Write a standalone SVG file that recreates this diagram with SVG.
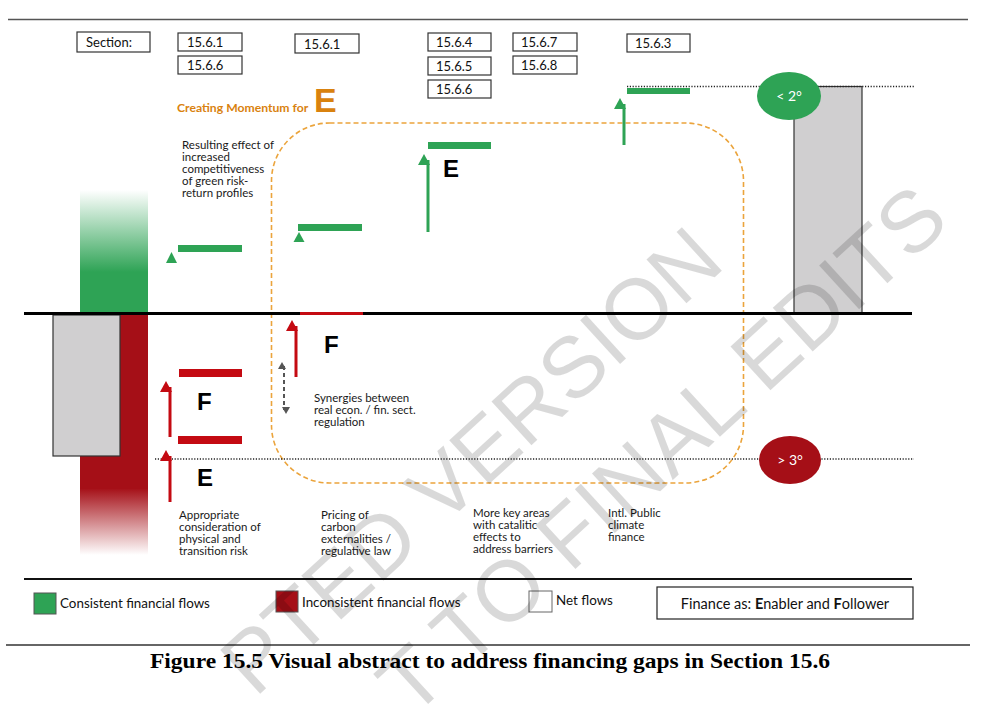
<svg xmlns="http://www.w3.org/2000/svg" width="993" height="705" viewBox="0 0 993 705">
<style>
  .box { fill: #ffffff; stroke: #333333; stroke-width: 1.2; }
  .sec { font-family: Lato, "Liberation Sans", sans-serif; font-size: 13px; fill: #111111; }
  .desc { font-family: Lato, "Liberation Sans", sans-serif; font-size: 11.5px; fill: #1a1a1a; }
  .big { font-family: "Liberation Sans", Arial, sans-serif; font-weight: bold; font-size: 24px; fill: #000000; }
  .leg { font-family: Lato, "Liberation Sans", sans-serif; font-size: 13.4px; fill: #111111; }
  .gbar { fill: #2ea355; }
  .rbar { fill: #c40a12; }
  .gline { stroke: #2ea355; stroke-width: 3; fill: none; }
  .rline { stroke: #c40a12; stroke-width: 3; fill: none; }
  .dots { stroke: #222222; stroke-width: 1.6; stroke-dasharray: 1.2 1.6; fill: none; }
  .wm { font-family: "Liberation Sans", Arial, sans-serif; font-size: 86px; fill: #000000; fill-opacity: 0.15; }
</style>
<defs>
  <linearGradient id="gfade" x1="0" y1="190" x2="0" y2="272" gradientUnits="userSpaceOnUse">
    <stop offset="0" stop-color="#2ea355" stop-opacity="0"/>
    <stop offset="1" stop-color="#2ea355" stop-opacity="1"/>
  </linearGradient>
  <linearGradient id="rfade" x1="0" y1="488" x2="0" y2="555" gradientUnits="userSpaceOnUse">
    <stop offset="0" stop-color="#a50f17" stop-opacity="1"/>
    <stop offset="1" stop-color="#a50f17" stop-opacity="0"/>
  </linearGradient>
  <marker id="gArrow" markerWidth="12" markerHeight="12" refX="6" refY="10" orient="auto-start-reverse" markerUnits="userSpaceOnUse" viewBox="0 0 12 12">
    <path d="M6 0 L12 11 L0 11 Z" fill="#2ea355" transform="rotate(90 6 6)"/>
  </marker>
  <marker id="rArrow" markerWidth="12" markerHeight="12" refX="6" refY="10" orient="auto-start-reverse" markerUnits="userSpaceOnUse" viewBox="0 0 12 12">
    <path d="M6 0 L12 11 L0 11 Z" fill="#c40a12" transform="rotate(90 6 6)"/>
  </marker>
  <marker id="kArrow" markerWidth="8" markerHeight="8" refX="4" refY="6" orient="auto-start-reverse" markerUnits="userSpaceOnUse" viewBox="0 0 8 8">
    <path d="M4 0 L8 7 L0 7 Z" fill="#555555" transform="rotate(90 4 4)"/>
  </marker>
</defs>

<rect x="0" y="0" width="993" height="705" fill="#ffffff"/>

<!-- page rules -->
<g id="rules">
  <line x1="8" y1="19.5" x2="968" y2="19.5" stroke="#555555" stroke-width="1.5"/>
  <line x1="24" y1="579" x2="912" y2="579" stroke="#111111" stroke-width="2"/>
  <line x1="6" y1="645" x2="970" y2="645" stroke="#333333" stroke-width="1.3"/>
</g>

<!-- section boxes -->
<g id="sections">
  <g id="sec-label"><rect class="box" x="77" y="32" width="73" height="20"/><text class="sec" x="86" y="47">Section:</text></g>
  <g id="sec-1a"><rect class="box" x="178" y="33" width="64" height="18"/><text class="sec" x="187" y="47">15.6.1</text></g>
  <g id="sec-1b"><rect class="box" x="178" y="56" width="64" height="18"/><text class="sec" x="187" y="70">15.6.6</text></g>
  <g id="sec-2a"><rect class="box" x="295" y="34" width="64" height="19"/><text class="sec" x="304" y="49">15.6.1</text></g>
  <g id="sec-3a"><rect class="box" x="428" y="33" width="63" height="18"/><text class="sec" x="436" y="47">15.6.4</text></g>
  <g id="sec-3b"><rect class="box" x="428" y="57" width="63" height="18"/><text class="sec" x="436" y="71">15.6.5</text></g>
  <g id="sec-3c"><rect class="box" x="428" y="80" width="63" height="18"/><text class="sec" x="436" y="94">15.6.6</text></g>
  <g id="sec-4a"><rect class="box" x="513" y="33" width="64" height="18"/><text class="sec" x="521" y="47">15.6.7</text></g>
  <g id="sec-4b"><rect class="box" x="513" y="56" width="64" height="18"/><text class="sec" x="521" y="70">15.6.8</text></g>
  <g id="sec-5a"><rect class="box" x="627" y="34" width="63" height="18"/><text class="sec" x="635" y="48">15.6.3</text></g>
</g>

<!-- momentum title -->
<g id="momentum">
  <text x="177" y="112" font-family="Lato, 'Liberation Sans', sans-serif" font-weight="bold" font-size="12.2px" fill="#d9820f">Creating Momentum for</text>
  <text x="314" y="112" font-family="'Liberation Sans', Arial, sans-serif" font-weight="bold" font-size="34px" fill="#d9820f">E</text>
</g>

<!-- dashed rounded frame -->
<g id="frame">
  <rect x="271.5" y="123" width="472" height="360" rx="58" ry="58" fill="none" stroke="#eba43c" stroke-width="1.6" stroke-dasharray="5 3"/>
</g>

<!-- left columns -->
<g id="left-columns">
  <rect x="80" y="190" width="68" height="123" fill="url(#gfade)"/>
  <rect x="80" y="314" width="68" height="175" fill="#a50f17"/>
  <rect x="80" y="488" width="68" height="68" fill="url(#rfade)"/>
  <rect x="53" y="315" width="67" height="141" fill="#d0cfd0" stroke="#333333" stroke-width="1.2"/>
</g>

<!-- right column -->
<g id="right-column">
  <rect x="794" y="86.5" width="68" height="226.5" fill="#d0cfd0" stroke="#333333" stroke-width="1.2"/>
</g>

<!-- reference lines -->
<g id="ref-lines">
  <line class="dots" x1="627" y1="86.5" x2="914" y2="86.5"/>
  <line class="dots" x1="155" y1="459" x2="914" y2="459"/>
</g>

<!-- main axis -->
<g id="axis">
  <line x1="24" y1="313.5" x2="912" y2="313.5" stroke="#000000" stroke-width="3"/>
  <line x1="300" y1="313.5" x2="363" y2="313.5" stroke="#c40a12" stroke-width="3"/>
</g>

<!-- temperature circles -->
<g id="circle-2deg">
  <ellipse cx="789" cy="96" rx="32" ry="24" fill="#2ea355"/>
  <text x="789" y="101" text-anchor="middle" font-family="Lato, 'Liberation Sans', sans-serif" font-size="14px" fill="#ffffff">&lt; 2°</text>
</g>
<g id="circle-3deg">
  <ellipse cx="790" cy="460" rx="31" ry="24" fill="#a50f17"/>
  <text x="790" y="465" text-anchor="middle" font-family="Lato, 'Liberation Sans', sans-serif" font-size="14px" fill="#ffffff">&gt; 3°</text>
</g>

<!-- bars (levels) -->
<g id="levels">
  <rect class="gbar" x="178" y="245" width="64" height="7"/>
  <rect class="gbar" x="298" y="224" width="64" height="7"/>
  <rect class="gbar" x="428" y="142" width="63" height="7"/>
  <rect class="gbar" x="627" y="88" width="63" height="6"/>
  <rect class="rbar" x="179" y="369" width="63" height="8"/>
  <rect class="rbar" x="178" y="436" width="64" height="8"/>
</g>

<!-- connectors / arrows -->
<g id="connectors">
  <polygon points="171.5,252 177,263 166,263" fill="#2ea355"/>
  <polygon points="299,232 304.5,242 293.5,242" fill="#2ea355"/>
  <line class="gline" x1="428" y1="232" x2="428" y2="160" marker-end="url(#gArrow)"/>
  <line class="gline" x1="624" y1="145" x2="624" y2="104" marker-end="url(#gArrow)"/>
  <line class="rline" x1="170" y1="437" x2="170" y2="387" marker-end="url(#rArrow)"/>
  <line class="rline" x1="170" y1="502" x2="170" y2="456" marker-end="url(#rArrow)"/>
  <line class="rline" x1="296" y1="377" x2="296" y2="326" marker-end="url(#rArrow)"/>
  <line x1="284" y1="366" x2="284" y2="410" stroke="#555555" stroke-width="2" stroke-dasharray="4 3" marker-start="url(#kArrow)" marker-end="url(#kArrow)"/>
</g>

<!-- E / F labels -->
<g id="ef-labels">
  <text class="big" x="443" y="177">E</text>
  <text class="big" x="324" y="353">F</text>
  <text class="big" x="197" y="410">F</text>
  <text class="big" x="197" y="486">E</text>
</g>

<!-- descriptions -->
<g id="desc-1">
  <text class="desc"><tspan x="182" y="149">Resulting effect of</tspan><tspan x="182" y="161">increased</tspan><tspan x="182" y="173">competitiveness</tspan><tspan x="182" y="185">of green risk-</tspan><tspan x="182" y="197">return profiles</tspan></text>
</g>
<g id="desc-2">
  <text class="desc"><tspan x="314" y="402">Synergies between</tspan><tspan x="314" y="414">real econ. / fin. sect.</tspan><tspan x="314" y="426">regulation</tspan></text>
</g>
<g id="desc-3">
  <text class="desc"><tspan x="179" y="519">Appropriate</tspan><tspan x="179" y="531">consideration of</tspan><tspan x="179" y="543">physical and</tspan><tspan x="179" y="555">transition risk</tspan></text>
</g>
<g id="desc-4">
  <text class="desc"><tspan x="321" y="519">Pricing of</tspan><tspan x="321" y="531">carbon</tspan><tspan x="321" y="543">externalities /</tspan><tspan x="321" y="555">regulative law</tspan></text>
</g>
<g id="desc-5">
  <text class="desc"><tspan x="473" y="517">More key areas</tspan><tspan x="473" y="529">with catalitic</tspan><tspan x="473" y="541">effects to</tspan><tspan x="473" y="553">address barriers</tspan></text>
</g>
<g id="desc-6">
  <text class="desc"><tspan x="608" y="517">Intl. Public</tspan><tspan x="608" y="529">climate</tspan><tspan x="608" y="541">finance</tspan></text>
</g>

<!-- legend -->
<g id="legend">
  <rect x="34" y="593" width="22" height="21" fill="#2ea355" stroke="#555555" stroke-width="1"/>
  <text class="leg" x="60" y="608">Consistent financial flows</text>
  <rect x="276" y="591" width="22" height="21" fill="#a50f17" stroke="#555555" stroke-width="1"/>
  <text class="leg" x="302" y="607">Inconsistent financial flows</text>
  <rect x="529" y="591" width="23" height="21" fill="#ffffff" stroke="#666666" stroke-width="1"/>
  <text class="leg" x="556" y="605">Net flows</text>
  <rect x="657" y="587" width="256" height="32" fill="#ffffff" stroke="#222222" stroke-width="1.2"/>
  <text x="785" y="609" text-anchor="middle" font-family="Lato, 'Liberation Sans', sans-serif" font-size="14.5px" fill="#111111">Finance as: <tspan font-weight="bold">E</tspan>nabler and <tspan font-weight="bold">F</tspan>ollower</text>
</g>

<!-- caption -->
<g id="caption">
  <text x="150" y="668" textLength="680" lengthAdjust="spacingAndGlyphs" font-family="'Liberation Serif', 'Times New Roman', serif" font-weight="bold" font-size="22px" fill="#000000">Figure 15.5 Visual abstract to address financing gaps in Section 15.6</text>
</g>

<!-- watermark -->
<g id="watermark">
  <text class="wm" x="727" y="266" text-anchor="end" transform="rotate(-42.5 727 266)">PTED VERSION</text>
  <text class="wm" x="952" y="224" text-anchor="end" transform="rotate(-42.5 952 224)">T TO FINAL EDITS</text>
</g>
</svg>
